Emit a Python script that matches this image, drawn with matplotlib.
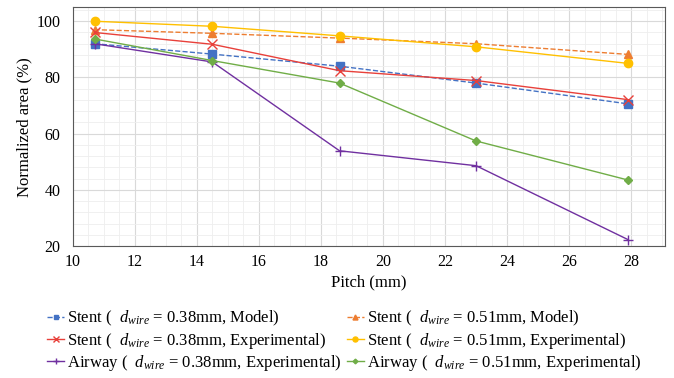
import numpy as np
import matplotlib
matplotlib.use('Agg')
import matplotlib.pyplot as plt
from matplotlib.ticker import MultipleLocator

plt.rcParams['font.family'] = ['Liberation Serif', 'DejaVu Serif']
plt.rcParams['mathtext.fontset'] = 'custom'
plt.rcParams['mathtext.it'] = 'Liberation Serif:italic'
plt.rcParams['mathtext.rm'] = 'Liberation Serif'

# pitch values (mm)
pitch = [10.7, 14.5, 18.6, 23.0, 27.9]

# normalized area (%)
stent_038_model = [92.0, 88.3, 84.0, 78.0, 70.6]
stent_051_model = [97.0, 95.7, 94.0, 92.0, 88.2]
stent_038_exp = [96.0, 91.8, 82.4, 78.9, 72.1]
stent_051_exp = [100.0, 98.2, 94.8, 90.9, 85.0]
airway_038_exp = [92.0, 85.5, 53.9, 48.6, 22.3]
airway_051_exp = [93.7, 86.0, 78.0, 57.4, 43.5]

labels = [
    r'Stent (  $d_{wire}$ = 0.38mm, Model)',
    r'Stent (  $d_{wire}$ = 0.51mm, Model)',
    r'Stent (  $d_{wire}$ = 0.38mm, Experimental)',
    r'Stent (  $d_{wire}$ = 0.51mm, Experimental)',
    r'Airway (  $d_{wire}$ = 0.38mm, Experimental)',
    r'Airway (  $d_{wire}$ = 0.51mm, Experimental)',
]

fig = plt.figure(figsize=(6.74, 3.78), dpi=100)
ax = fig.add_axes([0.108, 0.349, 0.879, 0.632])

ax.plot(pitch, stent_038_model, ls='--', color='#4472C4', marker='s', ms=6, lw=1, label=labels[0])
ax.plot(pitch, stent_051_model, ls='--', color='#ED7D31', marker='^', ms=6, lw=1, label=labels[1])
ax.plot(pitch, stent_038_exp, ls='-', color='#E8403A', marker='x', ms=7, mew=1, lw=1, label=labels[2])
ax.plot(pitch, stent_051_exp, ls='-', color='#FFC000', marker='o', ms=6, lw=1, label=labels[3])
ax.plot(pitch, airway_038_exp, ls='-', color='#7030A0', marker='+', ms=7, mew=1, lw=1, label=labels[4])
ax.plot(pitch, airway_051_exp, ls='-', color='#70AD47', marker='D', ms=4, lw=1, label=labels[5])

ax.set_xlim(10, 29.1)
ax.set_ylim(20, 105)
ax.xaxis.set_major_locator(MultipleLocator(2))
ax.xaxis.set_minor_locator(MultipleLocator(0.5))
ax.yaxis.set_major_locator(MultipleLocator(20))
ax.yaxis.set_minor_locator(MultipleLocator(4))
ax.grid(which='major', color='#d9d9d9', lw=0.8)
ax.grid(which='minor', color='#eeeeee', lw=0.6)
ax.set_axisbelow(True)
ax.tick_params(which='both', length=0, labelsize=11.5)
ax.tick_params(axis='x', pad=6)
ax.tick_params(axis='y', pad=9)
for s in ax.spines.values():
    s.set_color('#595959')

ax.set_xlabel('Pitch (mm)', fontsize=12, labelpad=3)
ax.set_ylabel('Normalized area (%)', fontsize=12, labelpad=3)

# legend filled row by row
handles, labs = ax.get_legend_handles_labels()
order = [0, 2, 4, 1, 3, 5]
fig.legend([handles[i] for i in order], [labs[i] for i in order],
           loc='upper left', bbox_to_anchor=(0.058, 0.205), bbox_transform=fig.transFigure,
           ncol=2, frameon=False, fontsize=12, handlelength=1.0, handletextpad=0.2,
           columnspacing=0.3, labelspacing=0.15, borderpad=0, markerscale=0.6)

plt.savefig('out.png', dpi=100)
